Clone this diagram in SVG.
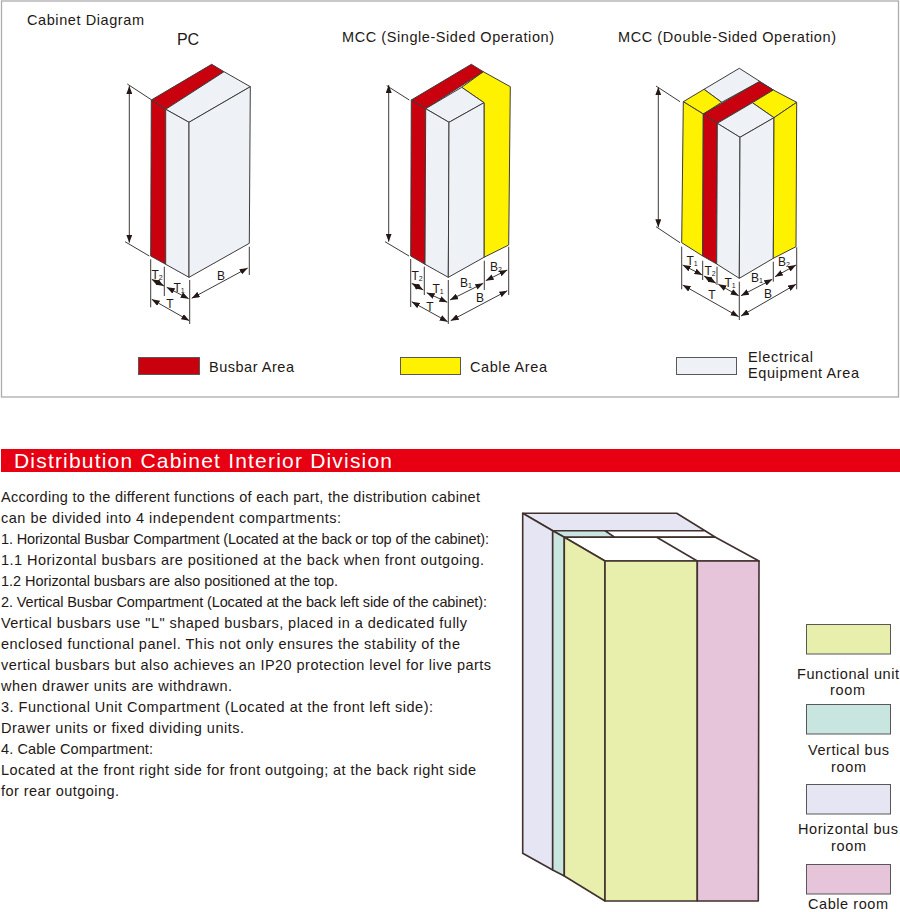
<svg xmlns="http://www.w3.org/2000/svg" width="900" height="912" viewBox="0 0 900 912">
<defs>
<marker id="ah" viewBox="0 0 8 6" refX="8" refY="3" markerWidth="8" markerHeight="6" markerUnits="userSpaceOnUse" orient="auto-start-reverse"><path d="M0 0L8 3L0 6Z" fill="#231815"/></marker>
</defs>
<style>
text{font-family:"Liberation Sans",Arial,sans-serif;fill:#231815}
.t{font-size:14.5px}
.h{font-size:14.5px}
.b{font-size:14.5px}
.d{font-size:12px;text-anchor:middle}
.s{font-size:7px}
.lg{font-size:14.5px}
.r{fill:#c9000e}.y{fill:#fff200}.g{fill:#eef2f6}
.c path,.c polygon{stroke:#3e3a39;stroke-width:1;stroke-linejoin:round}
.e{stroke:#3e3a39;stroke-width:.9;fill:none}
.a{stroke:#231815;stroke-width:.9;fill:none;marker-start:url(#ah);marker-end:url(#ah)}
.k polygon{stroke:#40312e;stroke-width:1.6;stroke-linejoin:round}
.k line{stroke:#40312e;stroke-width:1.6}
.sw{stroke:#595757;stroke-width:1}
</style>
<rect id="frame" x="1.500" y="1" width="897" height="396" fill="#fff" stroke="#acacac" stroke-width="1.300"/>
<text x="27" y="24.500" class="t" textLength="117" lengthAdjust="spacing">Cabinet Diagram</text>

<g id="pc" class="c">
<text x="177" y="45" style="font-size:16px" textLength="22" lengthAdjust="spacing">PC</text>
<polygon class="r" points="151.300,100 211.700,64.300 224,71.700 165.700,109.300"/>
<polygon class="g" points="224,71.700 250.300,86.700 189,122.300 165.700,109.300"/>
<polygon class="r" points="151.300,100 165.700,109.300 165.700,264.300 150.700,256"/>
<polygon class="g" points="165.700,109.300 189,122.300 189,277.300 165.700,264.300"/>
<polygon class="g" points="189,122.300 250.300,86.700 249.300,243.300 189,277.300"/>
<path class="e" d="M127.300 84L151 99.500M125 241.700L149.300 256M150.700 259.300V307.300M164.300 266.700V296M189.700 280V324M249.300 246.700V275"/>
<path class="a" d="M129.300 86V242.700"/>
<path class="a" d="M151.700 279.300L164 286"/>
<path class="a" d="M166.700 287.300L188.700 298.700"/>
<path class="a" d="M151.700 299.300L189.300 320.700"/>
<path class="a" d="M191.700 298.300L247.700 268"/>
<text x="157" y="278.500" class="d">T<tspan class="s" dy="1">2</tspan></text>
<text x="179" y="291.500" class="d">T<tspan class="s" dy="1">1</tspan></text>
<text x="170" y="307.500" class="d">T</text>
<text x="221" y="280" class="d">B</text>
</g>

<g id="mcc-single" class="c">
<text x="342" y="42" class="h" textLength="212" lengthAdjust="spacing">MCC (Single-Sided Operation)</text>
<polygon class="y" points="483.300,71.700 510.300,86.700 508.700,245 484,257.300 484,102.700 461.700,87.300"/>
<polygon class="r" points="411.300,100 471.300,64.300 483.300,71.700 425.700,108.700"/>
<polygon class="g" points="425.700,108.700 461.700,87.300 484,102.700 449,122.300"/>
<polygon class="r" points="411.300,100 425.700,108.700 425,264.300 410.700,256"/>
<polygon class="g" points="425.700,108.700 449,122.300 448.300,277.300 425,264.300"/>
<polygon class="g" points="449,122.300 484,102.700 484,257.300 448.300,277.300"/>
<path class="e" d="M386.700 85.700L409.300 100M385 241.700L409 256M410.700 259V307M424.300 266.700V295M448.300 280V324M484.300 260.700V290M508.700 246.700V295"/>
<path class="a" d="M388.700 85V241.700"/>
<path class="a" d="M411.700 283.300L423.300 290"/>
<path class="a" d="M426.700 292.700L447.300 302.300"/>
<path class="a" d="M411.700 301.700L447.700 321.700"/>
<path class="a" d="M450 300L483.300 283.300"/>
<path class="a" d="M485.700 280.700L507.300 270"/>
<path class="a" d="M450.700 320.700L507.300 290.700"/>
<text x="417" y="280" class="d">T<tspan class="s" dy="1">2</tspan></text>
<text x="438" y="293" class="d">T<tspan class="s" dy="1">1</tspan></text>
<text x="430" y="310.500" class="d">T</text>
<text x="466" y="286.500" class="d">B<tspan class="s" dy="1">1</tspan></text>
<text x="496" y="271" class="d">B<tspan class="s" dy="1">2</tspan></text>
<text x="480" y="301.500" class="d">B</text>
</g>

<g id="mcc-double" class="c">
<text x="618" y="42" class="h" textLength="218" lengthAdjust="spacing">MCC (Double-Sided Operation)</text>
<polygon class="g" points="704,89.300 739.300,68.300 773.300,90 759.300,81.700 721.700,102.300"/>
<polygon class="y" points="683.300,101.700 704,89.300 721.700,102.300 703.300,114"/>
<polygon class="r" points="703.300,114 759.300,81.700 773.300,90 717.300,123.300"/>
<polygon class="y" points="752.300,102.700 773.300,90 796.700,102.300 774,117.700"/>
<polygon class="g" points="717.300,123.300 752.300,102.700 774,117.700 740,137.300"/>
<polygon class="y" points="683.300,101.700 703.300,114 702.700,256 681.700,242.700"/>
<polygon class="r" points="703.300,114 717.300,123.300 716.700,264 702.700,256"/>
<polygon class="g" points="717.300,123.300 740,137.300 739.300,278.300 716.700,264"/>
<polygon class="g" points="740,137.300 774,117.700 773.300,258.300 739.300,278.300"/>
<polygon class="y" points="774,117.700 796.700,102.300 796,246.700 773.300,258.300"/>
<path class="e" d="M656 86L680 101.700M656 226.700L680 242.700M681.700 246.700V289.300M702.700 260.700V280M717 266.700V285M739.300 281.700V320M773.300 261.700V281.700M796.700 247.300V289.300"/>
<path class="a" d="M658.300 87.300V227.300"/>
<path class="a" d="M682.700 265L702.300 275"/>
<path class="a" d="M704 276L716 283.300"/>
<path class="a" d="M718.300 284.300L738.700 295.700"/>
<path class="a" d="M682.700 285L738.700 316.700"/>
<path class="a" d="M741 295.700L772.300 279.300"/>
<path class="a" d="M775 276.700L796 265"/>
<path class="a" d="M741 316L796 284.300"/>
<text x="692" y="265" class="d">T<tspan class="s" dy="1">1</tspan></text>
<text x="710" y="275" class="d">T<tspan class="s" dy="1">2</tspan></text>
<text x="730" y="286.500" class="d">T<tspan class="s" dy="1">1</tspan></text>
<text x="712" y="299" class="d">T</text>
<text x="757" y="281.500" class="d">B<tspan class="s" dy="1">1</tspan></text>
<text x="784" y="266" class="d">B<tspan class="s" dy="1">2</tspan></text>
<text x="768" y="297.500" class="d">B</text>
</g>

<g id="legend-busbar"><rect class="sw" x="138.500" y="357.500" width="61" height="17" fill="#c9000e"/><text x="209" y="372" class="t" textLength="85" lengthAdjust="spacing">Busbar Area</text></g>
<g id="legend-cable"><rect class="sw" x="400.500" y="357.500" width="60" height="17" fill="#fff200"/><text x="470" y="372" class="t" textLength="77" lengthAdjust="spacing">Cable Area</text></g>
<g id="legend-electrical"><rect class="sw" x="676.500" y="357.500" width="60" height="17" fill="#eef2f6"/><text x="748" y="362" class="t" textLength="65" lengthAdjust="spacing">Electrical</text><text x="748" y="378" class="t" textLength="111" lengthAdjust="spacing">Equipment Area</text></g>

<g id="title-bar"><rect x="1" y="449" width="899" height="23" fill="#e60012"/><text x="14" y="468" style="font-size:21px;fill:#fff" textLength="378" lengthAdjust="spacing">Distribution Cabinet Interior Division</text></g>

<g id="body-text" class="b">
<text x="1" y="502" textLength="479" lengthAdjust="spacing">According to the different functions of each part, the distribution cabinet</text>
<text x="1" y="523" textLength="340" lengthAdjust="spacing">can be divided into 4 independent compartments:</text>
<text x="1" y="544" textLength="488" lengthAdjust="spacing">1. Horizontal Busbar Compartment (Located at the back or top of the cabinet):</text>
<text x="1" y="565" textLength="483" lengthAdjust="spacing">1.1 Horizontal busbars are positioned at the back when front outgoing.</text>
<text x="1" y="586" textLength="337" lengthAdjust="spacing">1.2 Horizontal busbars are also positioned at the top.</text>
<text x="1" y="607" textLength="486" lengthAdjust="spacing">2. Vertical Busbar Compartment (Located at the back left side of the cabinet):</text>
<text x="1" y="628" textLength="466" lengthAdjust="spacing">Vertical busbars use "L" shaped busbars, placed in a dedicated fully</text>
<text x="1" y="649" textLength="459" lengthAdjust="spacing">enclosed functional panel. This not only ensures the stability of the</text>
<text x="1" y="670" textLength="490" lengthAdjust="spacing">vertical busbars but also achieves an IP20 protection level for live parts</text>
<text x="1" y="691" textLength="231" lengthAdjust="spacing">when drawer units are withdrawn.</text>
<text x="1" y="712" textLength="432" lengthAdjust="spacing">3. Functional Unit Compartment (Located at the front left side):</text>
<text x="1" y="733" textLength="243" lengthAdjust="spacing">Drawer units or fixed dividing units.</text>
<text x="1" y="754" textLength="152" lengthAdjust="spacing">4. Cable Compartment:</text>
<text x="1" y="775" textLength="475" lengthAdjust="spacing">Located at the front right side for front outgoing; at the back right side</text>
<text x="1" y="796" textLength="118" lengthAdjust="spacing">for rear outgoing.</text>
</g>

<g id="cabinet-3d" class="k">
<polygon fill="#e6e5f3" points="522.700,513.300 676.700,513.300 705,530.700 552.700,530.700"/>
<polygon fill="#c8e6df" points="552.700,530.700 605,530.700 615,537.300 564.300,537.300"/>
<polygon fill="#fff" points="605,530.700 705,530.700 715,537 615,537.300"/>
<polygon fill="#fff" points="564.300,537.300 715,537 759,561 605,561"/>
<line x1="656.700" y1="537.300" x2="697.300" y2="561"/>
<polygon fill="#e6e5f3" points="522.700,513.300 552.700,530.700 552.700,870 522.700,853.300"/>
<polygon fill="#c8e6df" points="552.700,530.700 564.300,537.300 564.300,876 552.700,870"/>
<polygon fill="#e8efad" points="564.300,537.300 605,561 605,901 564.300,876"/>
<polygon fill="#e8efad" points="605,561 697.300,561 697.300,901 605,901"/>
<polygon fill="#e6c5da" points="697.300,561 759,561 758.300,901 697.300,901"/>
</g>

<g id="legend-functional"><rect class="sw" x="806.500" y="624.500" width="84" height="29.500" fill="#e8efad"/><text x="797" y="679" class="lg" textLength="102" lengthAdjust="spacing">Functional unit</text><text x="830" y="695" class="lg" textLength="35" lengthAdjust="spacing">room</text></g>
<g id="legend-vertical"><rect class="sw" x="806.500" y="704.500" width="84" height="29.500" fill="#c8e6df"/><text x="808" y="755" class="lg" textLength="81" lengthAdjust="spacing">Vertical bus</text><text x="831" y="772" class="lg" textLength="35" lengthAdjust="spacing">room</text></g>
<g id="legend-horizontal"><rect class="sw" x="806.500" y="784.500" width="84" height="29.500" fill="#e6e5f3"/><text x="798" y="834" class="lg" textLength="100" lengthAdjust="spacing">Horizontal bus</text><text x="831" y="851" class="lg" textLength="35" lengthAdjust="spacing">room</text></g>
<g id="legend-cableroom"><rect class="sw" x="806.500" y="864.500" width="84" height="29.500" fill="#e6c5da"/><text x="808" y="908.500" class="lg" textLength="80" lengthAdjust="spacing">Cable room</text></g>
</svg>
